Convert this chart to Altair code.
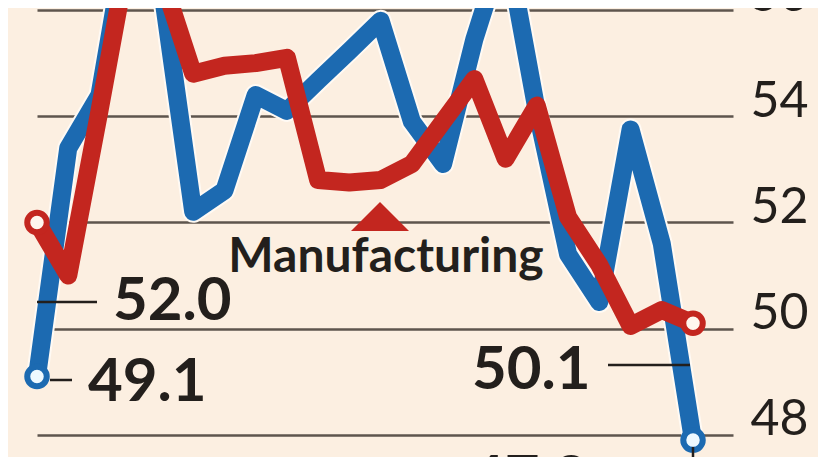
import altair as alt
import pandas as pd

# month index (22 monthly readings)
months = list(range(22))
services = [49.1, 53.4, 54.4, 57.8, 56.4, 52.2, 52.6, 54.4, 54.1, 54.67, 55.23,
            55.8, 53.9, 53.1, 55.45, 57.3, 54.1, 51.4, 50.5, 53.75, 51.6, 47.9]
manufacturing = [52.0, 51.0, 54.1, 57.3, 56.6, 54.8, 54.95, 55.0, 55.1, 52.8, 52.75,
                 52.8, 53.1, 53.9, 54.7, 53.2, 54.2, 52.1, 51.2, 50.05, 50.35, 50.1]
grid_values = [48, 50, 52, 54, 56]
series_label = "Manufacturing"

BLUE = "#1c6ab1"
RED = "#c3261f"
BG = "#fcefe1"
INK = "#231f1c"
GRID = "#5e554d"

df_s = pd.DataFrame({"i": months, "v": services})
df_m = pd.DataFrame({"i": months, "v": manufacturing})
ends_s = df_s.iloc[[0, -1]]
ends_m = df_m.iloc[[0, -1]]

X = alt.X("i:Q", scale=alt.Scale(domain=[0, 22.28], nice=False, zero=False), axis=None)
Y = alt.Y(
    "v:Q",
    scale=alt.Scale(domain=[47.582, 56.038], nice=False, zero=False),
    axis=alt.Axis(
        orient="right", values=grid_values, grid=True, gridColor=GRID, gridWidth=2.5,
        domain=False, ticks=False, labelPadding=75, labelAlign="right",
        labelBaseline="alphabetic", labelFontSize=50, labelFont="Lato",
        labelColor=INK, labelOverlap=False, title=None,
    ),
)

halo = alt.Chart(df_s).mark_line(color="#fffaf4", strokeWidth=22, strokeJoin="round"
                                 ).encode(x=X, y=Y)
blue_line = alt.Chart(df_s).mark_line(color=BLUE, strokeWidth=18, strokeJoin="round"
                                      ).encode(x=X, y=Y)
red_line = alt.Chart(df_m).mark_line(color=RED, strokeWidth=18, strokeJoin="round"
                                     ).encode(x=X, y=Y)
blue_pts = alt.Chart(ends_s).mark_point(shape="circle", size=380, filled=False,
                                        fill="#eef9ff", fillOpacity=1, stroke=BLUE,
                                        strokeWidth=6, opacity=1).encode(x=X, y=Y)
red_pts = alt.Chart(ends_m).mark_point(shape="circle", size=380, filled=False,
                                       fill="#fff6ee", fillOpacity=1, stroke=RED,
                                       strokeWidth=6, opacity=1).encode(x=X, y=Y)

one = pd.DataFrame({"k": [0]})


def leader(x1, x2, y1, y2=None):
    enc = dict(x=alt.value(x1), x2=alt.value(x2), y=alt.value(y1))
    if y2 is not None:
        enc["y2"] = alt.value(y2)
    return alt.Chart(one).mark_rule(color=INK, strokeWidth=2.5).encode(**enc)


def label(txt, x, y, size=60, weight="bold", align="left"):
    return alt.Chart(one).mark_text(
        text=txt, font="Lato", fontSize=size, fontWeight=weight, color=INK,
        align=align, baseline="alphabetic",
    ).encode(x=alt.value(x), y=alt.value(y))


leaders = [
    leader(0, 60, 294),      # 52.0
    leader(13, 35, 372),     # 49.1
    leader(571, 653, 357),   # 50.1
    leader(656, 656, 439, 460),  # 47.9
]
labels = [
    label(f"{manufacturing[0]:.1f}", 76, 312),
    label(f"{services[0]:.1f}", 51, 393),
    label(f"{manufacturing[-1]:.1f}", 435, 381),
    label(f"{services[-1]:.1f}", 433, 490),
    label(series_label, 349, 264, size=48, align="center"),
]
triangle = alt.Chart(one).mark_point(
    shape="M-1,0.5L1,0.5L0,-0.5Z", size=3364, filled=True, color=RED, opacity=1
).encode(x=alt.value(343), y=alt.value(208.5))

chart = alt.layer(
    halo, blue_line, red_line, blue_pts, red_pts, triangle, *leaders, *labels
).properties(
    width=696, height=449,
    padding={"left": 29, "top": 0, "right": 85, "bottom": 0},
    autosize=alt.AutoSizeParams(type="none"),
    background=BG,
).configure_view(stroke=None)

chart.save("out.html", embed_options={"renderer": "svg", "actions": False})
